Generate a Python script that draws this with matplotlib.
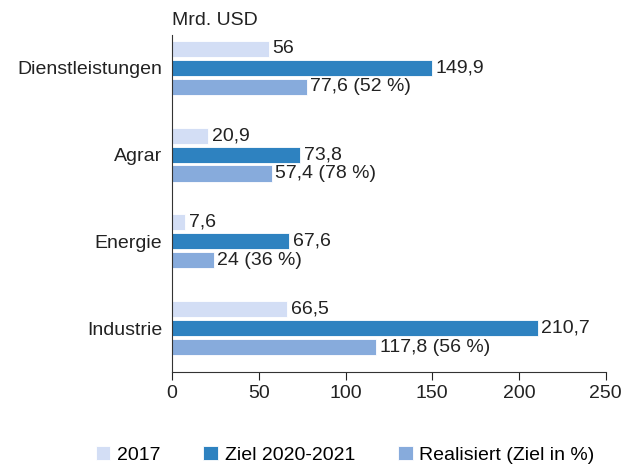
import matplotlib.pyplot as plt
import numpy as np

plt.rcParams['font.family'] = ['Liberation Sans', 'DejaVu Sans']

# Data
categories = ['Industrie', 'Energie', 'Agrar', 'Dienstleistungen']
val_2017 = [66.5, 7.6, 20.9, 56]
val_ziel = [210.7, 67.6, 73.8, 149.9]
val_real = [117.8, 24, 57.4, 77.6]
pct_real = [56, 36, 78, 52]

series_names = ['2017', 'Ziel 2020-2021', 'Realisiert (Ziel in %)']
colors = ['#d3def5', '#2e82c0', '#87abdc']


def fmt(v):
    s = ('%g' % v).replace('.', ',')
    return s


fig = plt.figure(figsize=(6.37, 4.65), dpi=100)
ax = fig.add_axes([0.270, 0.200, 0.681, 0.725])

y = np.arange(len(categories))
h = 0.185
step = 0.218

b1 = ax.barh(y + step, val_2017, height=h, color=colors[0], edgecolor='white', linewidth=0.6, label=series_names[0])
b2 = ax.barh(y, val_ziel, height=h, color=colors[1], edgecolor='white', linewidth=0.6, label=series_names[1])
b3 = ax.barh(y - step, val_real, height=h, color=colors[2], edgecolor='white', linewidth=0.6, label=series_names[2])

fs = 14
for i in range(len(categories)):
    ax.text(val_2017[i] + 2, y[i] + step, fmt(val_2017[i]), va='center', ha='left', fontsize=fs, color='#222222')
    ax.text(val_ziel[i] + 2, y[i], fmt(val_ziel[i]), va='center', ha='left', fontsize=fs, color='#222222')
    ax.text(val_real[i] + 2, y[i] - step, '%s (%d %%)' % (fmt(val_real[i]), pct_real[i]),
            va='center', ha='left', fontsize=fs, color='#222222')

ax.set_xlim(0, 250)
ax.set_ylim(-0.506, 3.38)
ax.set_xticks([0, 50, 100, 150, 200, 250])
ax.set_yticks(y)
ax.set_yticklabels(categories, fontsize=fs, color='#222222')
ax.tick_params(axis='y', length=0, pad=7)
ax.tick_params(axis='x', labelsize=fs, colors='#222222', length=6, width=0.8, direction='out', pad=3)
for side in ['top', 'right']:
    ax.spines[side].set_visible(False)
for side in ['left', 'bottom']:
    ax.spines[side].set_linewidth(0.8)
    ax.spines[side].set_color('#333333')

fig.text(0.270, 0.955, 'Mrd. USD', fontsize=fs, color='#222222', ha='left', va='center')

fig.legend(handles=[b1, b2, b3], labels=series_names, loc='center', bbox_to_anchor=(0.542, 0.022),
           ncol=3, frameon=False, fontsize=fs, handlelength=0.75, handleheight=0.75,
           handletextpad=0.35, columnspacing=2.2)

fig.savefig('out.png', dpi=100)
